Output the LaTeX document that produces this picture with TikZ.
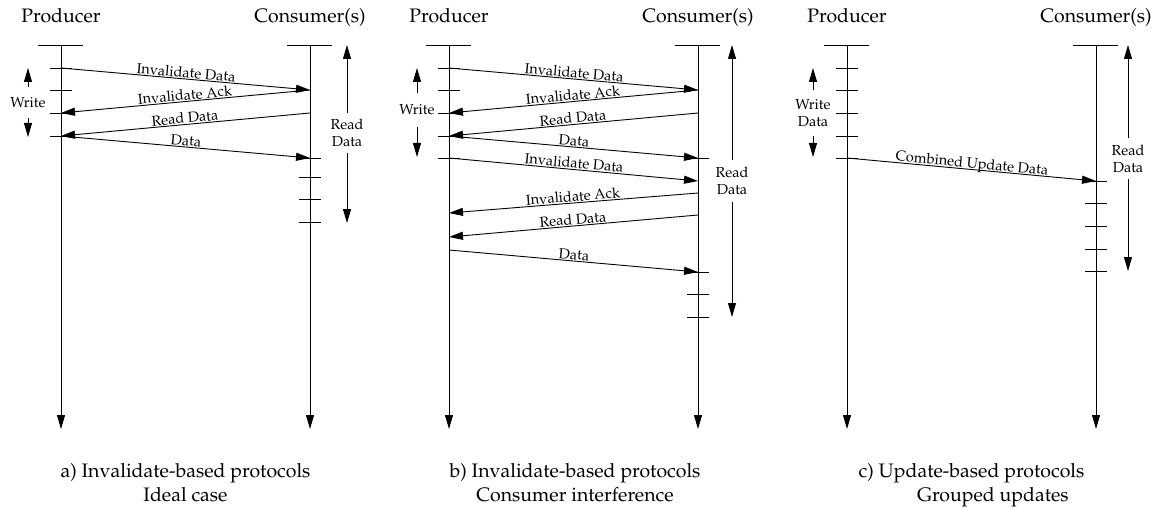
\documentclass[tikz,border=0pt]{standalone}
\usepackage[T1]{fontenc}
\usepackage{mathpazo}
\usetikzlibrary{arrows.meta}

\newcommand\hdrfont{\fontsize{19.5}{24}\selectfont}
\newcommand\lblfont{\fontsize{14.5}{17}\selectfont}

\tikzset{
  tip/.style={-{Triangle[length=14pt,width=8pt]}},
  wire/.style={line width=0.9pt},
  life/.style={wire, tip},
  msg/.style={wire, tip},
  tickmark/.style={wire},
  bar/.style={wire},
  msglbl/.style={font=\lblfont, sloped, anchor=base, inner sep=0pt, yshift=1.5pt},
  hdr/.style={font=\hdrfont, anchor=base, inner sep=0pt},
  spanlbl/.style={font=\lblfont, align=center, inner sep=0pt, minimum height=#1},
  caption/.style={font=\hdrfont, align=center, anchor=base, inner sep=0pt},
}

% producer and consumer time lines of one panel
\newcommand\lifelines[1]{%
  \coordinate (#1P0) at (61,45);  \coordinate (#1P1) at (61,429);
  \coordinate (#1C0) at (310,45); \coordinate (#1C1) at (310,429);
  \node[hdr] (#1Ph) at (61,23) {Producer};
  \node[hdr] (#1Ch) at (310,23) {Consumer(s)};
  \draw[bar] (#1P0) +(-23,0) -- +(22,0);
  \draw[bar] (#1C0) +(-23,0) -- +(22,0);
  \draw[life] (#1P0) -- (#1P1);
  \draw[life] (#1C0) -- (#1C1);
}
\newcommand\tk[1]{\draw[tickmark] (#1) +(-11,0) -- +(11,0);}

\begin{document}
\begin{tikzpicture}[x=1pt,y=-1pt]
\useasboundingbox (0,0) rectangle (1157,508);

% ---------------- a) ideal case ----------------
\begin{scope}
  \lifelines{a}
  \coordinate (ap1) at (61,68);  \coordinate (ap2) at (61,90);
  \coordinate (ap3) at (61,113); \coordinate (ap4) at (61,136);
  \coordinate (ac1) at (310,90);  \coordinate (ac2) at (310,113);
  \coordinate (ac3) at (310,158); \coordinate (ac4) at (310,177);
  \coordinate (ac5) at (310,199); \coordinate (ac6) at (310,222);
  \tk{ap1}\tk{ap2}\tk{ap3}\tk{ap4}
  \tk{ac3}\tk{ac4}\tk{ac5}\tk{ac6}
  \draw[msg] (ap1) -- node[msglbl] {Invalidate Data} (ac1);
  \draw[msg] (ac1) -- node[msglbl] {Invalidate Ack} (ap3);
  \draw[msg] (ac2) -- node[msglbl] {Read Data} (ap4);
  \draw[msg] (ap4) -- node[msglbl] {Data} (ac3);
  % write and read intervals
  \coordinate (aw0) at (28,68);  \coordinate (aw1) at (28,137);
  \node[spanlbl=31pt] (aw) at (28,102.5) {Write};
  \draw[msg] (aw.north) -- (aw0);
  \draw[msg] (aw.south) -- (aw1);
  \coordinate (ar0) at (347,45); \coordinate (ar1) at (347,223);
  \node[spanlbl=40pt] (ar) at (347,133) {Read\\Data};
  \draw[msg] (ar.north) -- (ar0);
  \draw[msg] (ar.south) -- (ar1);
  \node[caption] (acap) at (185.5,501) {a) Invalidate-based protocols\\Ideal case};
\end{scope}

% ---------------- b) consumer interference ----------------
\begin{scope}[xshift=388pt]
  \lifelines{b}
  \coordinate (bp1) at (61,68);  \coordinate (bp2) at (61,90);
  \coordinate (bp3) at (61,113); \coordinate (bp4) at (61,136);
  \coordinate (bp5) at (61,158);
  \coordinate (bq1) at (61,213); \coordinate (bq2) at (61,237);
  \coordinate (bq3) at (61,250);
  \coordinate (bc1) at (310,90);  \coordinate (bc2) at (310,113);
  \coordinate (bc3) at (310,158); \coordinate (bc4) at (310,181);
  \coordinate (bc5) at (310,193); \coordinate (bc6) at (310,215);
  \coordinate (bc7) at (310,272); \coordinate (bc8) at (310,294);
  \coordinate (bc9) at (310,317);
  \tk{bp1}\tk{bp2}\tk{bp3}\tk{bp4}\tk{bp5}
  \tk{bc3}\tk{bc7}\tk{bc8}\tk{bc9}
  \draw[msg] (bp1) -- node[msglbl] {Invalidate Data} (bc1);
  \draw[msg] (bc1) -- node[msglbl] {Invalidate Ack} (bp3);
  \draw[msg] (bc2) -- node[msglbl] {Read Data} (bp4);
  \draw[msg] (bp4) -- node[msglbl] {Data} (bc3);
  \draw[msg] (bp5) -- node[msglbl] {Invalidate Data} (bc4);
  \draw[msg] (bc5) -- node[msglbl] {Invalidate Ack} (bq1);
  \draw[msg] (bc6) -- node[msglbl] {Read Data} (bq2);
  \draw[msg] (bq3) -- node[msglbl] {Data} (bc7);
  \coordinate (bw0) at (29,68);  \coordinate (bw1) at (29,157);
  \node[spanlbl=33pt] (bw) at (29,110) {Write};
  \draw[msg] (bw.north) -- (bw0);
  \draw[msg] (bw.south) -- (bw1);
  \coordinate (br0) at (344,45); \coordinate (br1) at (344,317);
  \node[spanlbl=42pt] (br) at (344,181) {Read\\Data};
  \draw[msg] (br.north) -- (br0);
  \draw[msg] (br.south) -- (br1);
  \node[caption] (bcap) at (187,501) {b) Invalidate-based protocols\\Consumer interference};
\end{scope}

% ---------------- c) grouped updates ----------------
\begin{scope}[xshift=786pt]
  \lifelines{c}
  \coordinate (cp1) at (61,68);  \coordinate (cp2) at (61,90);
  \coordinate (cp3) at (61,113); \coordinate (cp4) at (61,136);
  \coordinate (cp5) at (61,158);
  \coordinate (cc1) at (310,181); \coordinate (cc2) at (310,203);
  \coordinate (cc3) at (310,226); \coordinate (cc4) at (310,249);
  \coordinate (cc5) at (310,271);
  \tk{cp1}\tk{cp2}\tk{cp3}\tk{cp4}\tk{cp5}
  \tk{cc1}\tk{cc2}\tk{cc3}\tk{cc4}\tk{cc5}
  \draw[msg] (cp5) -- node[msglbl] {Combined Update Data} (cc1);
  \coordinate (cw0) at (27,68);  \coordinate (cw1) at (27,157);
  \node[spanlbl=46pt] (cw) at (27,113) {Write\\Data};
  \draw[msg] (cw.north) -- (cw0);
  \draw[msg] (cw.south) -- (cw1);
  \coordinate (cr0) at (342,45); \coordinate (cr1) at (342,271);
  \node[spanlbl=41pt] (cr) at (342,158.5) {Read\\Data};
  \draw[msg] (cr.north) -- (cr0);
  \draw[msg] (cr.south) -- (cr1);
  \node[caption] (ccap) at (185.5,501) {c) Update-based protocols\\\hspace*{2.2em}Grouped updates};
\end{scope}
\end{tikzpicture}
\end{document}
